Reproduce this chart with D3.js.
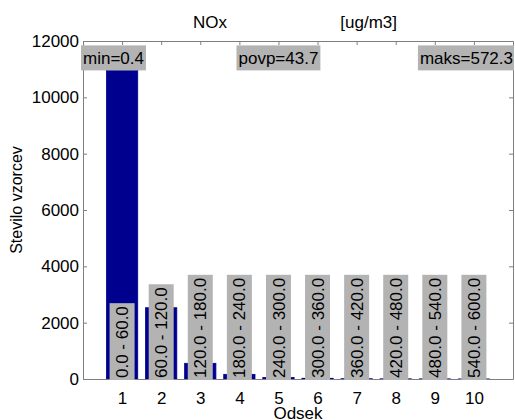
<!DOCTYPE html>
<html>
<head>
<meta charset="utf-8">
<script src="https://cdn.jsdelivr.net/npm/d3@7"></script>
<style>
  body { margin: 0; background: #fff; }
  svg { display: block; font-family: "Liberation Sans", Arial, sans-serif; }
</style>
</head>
<body>
<div id="chart"></div>
<script>
// Data
let bins = [1, 2, 3, 4, 5, 6, 7, 8, 9, 10];
let counts = [10950, 2530, 557, 165, 55, 25, 10, 6, 4, 2];
let binLabels = ["0.0 - 60.0", "60.0 - 120.0", "120.0 - 180.0", "180.0 - 240.0", "240.0 - 300.0",
                 "300.0 - 360.0", "360.0 - 420.0", "420.0 - 480.0", "480.0 - 540.0", "540.0 - 600.0"];
let yTicks = [0, 2000, 4000, 6000, 8000, 10000, 12000];
let statLabels = ["min=0.4", "povp=43.7", "maks=572.3"];

let width = 515, height = 420;
let margin = {top: 41, right: 2, bottom: 41, left: 83};
let fontSize = 17;
let barColor = "#00008f", boxGray = "#b3b3b3", axisGray = "#7f7f7f";

let svg = d3.select("#chart")
    .append("svg")
    .attr("width", width)
    .attr("height", height);

// x uses the 0..11 range of the original axis, bars sit on integers
let x = d3.scaleLinear()
    .domain([0, 11])
    .range([margin.left, width - margin.right]);

let y = d3.scaleLinear()
    .domain([0, 12000])
    .range([height - margin.bottom, margin.top]);

let barW = x(0.8) - x(0);

// Bars
svg.append("g")
    .selectAll("rect")
    .data(bins)
    .enter()
    .append("rect")
    .attr("x", function(d) { return x(d) - barW / 2; })
    .attr("y", function(d, i) { return y(counts[i]); })
    .attr("width", barW)
    .attr("height", function(d, i) { return Math.max(0, y(0) - y(counts[i])); })
    .attr("fill", barColor)
    .attr("stroke", barColor)
    .attr("stroke-width", 0.8);

// Axes, ticks point inward
let axisL = svg.append("g")
    .attr("transform", `translate(${margin.left},0)`)
    .call(d3.axisLeft(y).tickValues(yTicks).tickFormat(d3.format("d"))
        .tickSize(-4).tickSizeOuter(0).tickPadding(4));
let axisR = svg.append("g")
    .attr("transform", `translate(${width - margin.right},0)`)
    .call(d3.axisRight(y).tickValues(yTicks).tickSize(-4).tickSizeOuter(0).tickFormat(""));
let axisB = svg.append("g")
    .attr("transform", `translate(0,${y(0)})`)
    .call(d3.axisBottom(x).tickValues(bins).tickSize(-4).tickSizeOuter(0).tickPadding(13));
let axisT = svg.append("g")
    .attr("transform", `translate(0,${margin.top})`)
    .call(d3.axisTop(x).tickValues(bins).tickSize(-4).tickSizeOuter(0).tickFormat(""));

[axisL, axisR, axisB, axisT].forEach(function(a) {
    a.selectAll("path, line").attr("stroke", axisGray);
    a.selectAll("text").attr("fill", "#000").style("font-size", fontSize + "px")
        .style("font-family", "Liberation Sans, Arial, sans-serif");
});

// Rotated bin range labels with grey background
let binGroups = svg.append("g")
    .selectAll("g")
    .data(bins)
    .enter()
    .append("g")
    .attr("transform", function(d) { return `translate(${x(d)},${y(0) - 1}) rotate(-90)`; });

binGroups.append("rect").attr("fill", boxGray);
binGroups.append("text")
    .attr("x", 0)
    .attr("y", 0)
    .attr("dy", "0.36em")
    .style("font-size", fontSize + "px")
    .style("text-anchor", "start")
    .text(function(d, i) { return binLabels[i]; });

binGroups.each(function() {
    let g = d3.select(this);
    let b = g.select("text").node().getBBox();
    g.select("rect")
        .attr("x", b.x - 2)
        .attr("y", -12.5)
        .attr("width", b.width + 5)
        .attr("height", 25);
});

// Stats labels along the top
let statPos = [
    {x: 0, anchor: "start"},
    {x: 5, anchor: "middle"},
    {x: 11, anchor: "end"}
];
let stats = svg.append("g")
    .selectAll("g")
    .data(statLabels)
    .enter()
    .append("g");

stats.append("rect").attr("fill", boxGray);
stats.append("text")
    .attr("x", function(d, i) { return x(statPos[i].x); })
    .attr("y", y(11400))
    .attr("dy", "0.36em")
    .style("font-size", fontSize + "px")
    .style("text-anchor", function(d, i) { return statPos[i].anchor; })
    .text(function(d) { return d; });

stats.each(function() {
    let g = d3.select(this);
    let b = g.select("text").node().getBBox();
    g.select("rect")
        .attr("x", b.x - 2)
        .attr("y", y(11400) - 12.5)
        .attr("width", Math.min(b.width + 4, width - margin.right + 1 - (b.x - 2)))
        .attr("height", 25);
});

// Title
svg.append("text")
    .attr("x", x(5.5) - 3)
    .attr("y", 28)
    .style("font-size", fontSize + "px")
    .style("text-anchor", "middle")
    .style("white-space", "pre")
    .text("NOx                        [ug/m3]");

// x axis label
svg.append("text")
    .attr("x", x(5.5))
    .attr("y", 419)
    .style("font-size", fontSize + "px")
    .style("text-anchor", "middle")
    .text("Odsek");

// y axis label
svg.append("text")
    .attr("transform", `translate(22, 200) rotate(-90)`)
    .style("font-size", "16px")
    .style("text-anchor", "middle")
    .text("Stevilo vzorcev");
</script>
</body>
</html>
